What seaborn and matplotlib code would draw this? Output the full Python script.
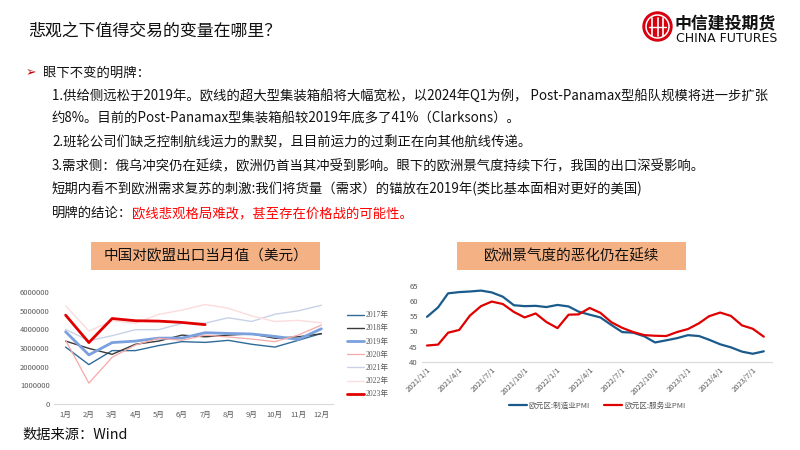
import matplotlib
matplotlib.use("Agg")
import matplotlib.pyplot as plt
import seaborn as sns
import pandas as pd
import numpy as np
from matplotlib.patches import Circle, Rectangle

# ---------------- data ----------------
months = list(range(1, 13))
month_labels = [f"{m}月" for m in months]

exp_2017 = [3050000, 2110000, 2860000, 2860000, 3130000, 3340000, 3300000, 3410000, 3200000, 3050000, 3410000, 3780000]
exp_2018 = [3370000, 2980000, 2660000, 3200000, 3370000, 3690000, 3600000, 3690000, 3760000, 3520000, 3600000, 3760000]
exp_2019 = [3870000, 2630000, 3290000, 3370000, 3530000, 3530000, 3820000, 3780000, 3750000, 3620000, 3460000, 4030000]
exp_2020 = [3410000, 1120000, 2500000, 3160000, 3520000, 3410000, 3690000, 3590000, 3480000, 3340000, 3690000, 4230000]
exp_2021 = [4000000, 3390000, 3660000, 3980000, 3980000, 4320000, 4330000, 4620000, 4420000, 4810000, 4990000, 5290000]
exp_2022 = [5260000, 3910000, 4460000, 4320000, 4800000, 5030000, 5330000, 5130000, 4720000, 4420000, 4480000, 4350000]
exp_2023 = [4760000, 3290000, 4580000, 4460000, 4440000, 4370000, 4250000]

years = ["2017年", "2018年", "2019年", "2020年", "2021年", "2022年", "2023年"]
year_values = [exp_2017, exp_2018, exp_2019, exp_2020, exp_2021, exp_2022, exp_2023]
year_colors = ["#2F6B9A", "#3A3A3A", "#7BA0DE", "#F7A8A8", "#C8D2E6", "#FCDCDC", "#E00000"]
year_widths = [1.0, 1.0, 2.0, 0.9, 1.0, 1.0, 2.0]

pmi_dates = pd.date_range("2021-01-01", periods=32, freq="MS")
pmi_manu = [54.8, 57.9, 62.5, 62.9, 63.1, 63.4, 62.8, 61.4, 58.6, 58.3, 58.4, 58.0,
            58.7, 58.2, 56.5, 55.5, 54.6, 52.1, 49.8, 49.6, 48.4, 46.4, 47.1, 47.8,
            48.8, 48.5, 47.3, 45.8, 44.8, 43.4, 42.7, 43.5]
pmi_serv = [45.4, 45.7, 49.6, 50.5, 55.2, 58.3, 59.8, 59.0, 56.4, 54.6, 55.9, 53.1,
            51.1, 55.5, 55.6, 57.7, 56.1, 53.0, 51.2, 49.8, 48.8, 48.6, 48.5, 49.8,
            50.8, 52.7, 55.0, 56.2, 55.1, 52.0, 50.9, 48.3]
pmi_names = ["欧元区:制造业PMI", "欧元区:服务业PMI"]

title = "悲观之下值得交易的变量在哪里？"
body_lines = [
    "1.供给侧远松于2019年。欧线的超大型集装箱船将大幅宽松，以2024年Q1为例， Post-Panamax型船队规模将进一步扩张",
    "约8%。目前的Post-Panamax型集装箱船较2019年底多了41%（Clarksons）。",
    "2.班轮公司们缺乏控制航线运力的默契，且目前运力的过剩正在向其他航线传递。",
    "3.需求侧：俄乌冲突仍在延续，欧洲仍首当其冲受到影响。眼下的欧洲景气度持续下行，我国的出口深受影响。",
    "短期内看不到欧洲需求复苏的刺激:我们将货量（需求）的锚放在2019年(类比基本面相对更好的美国)",
]
conclusion_head = "明牌的结论："
conclusion_red = "欧线悲观格局难改，甚至存在价格战的可能性。"
left_title = "中国对欧盟出口当月值（美元）"
right_title = "欧洲景气度的恶化仍在延续"
source = "数据来源：Wind"

# ---------------- style ----------------
sns.set_theme(style="white")
CJK = ["Noto Sans CJK SC", "DejaVu Sans"]
plt.rcParams["font.family"] = CJK
plt.rcParams["axes.unicode_minus"] = False

W, H = 800, 450
fig = plt.figure(figsize=(8, 4.5), dpi=100)

def fx(px):
    return px / W

def fy(py):
    return 1 - py / H

# header
fig.text(fx(28), fy(31), title, fontsize=12.2, va="center", ha="left", color="#111111")

# logo
lax = fig.add_axes([fx(641), fy(43), fx(33), 33 / H])
lax.set_xlim(-16.5, 16.5)
lax.set_ylim(-16.5, 16.5)
lax.set_aspect("equal")
lax.axis("off")
lax.add_patch(Circle((0, 0), 14.5, color="#D7000F"))
lax.add_patch(Circle((0, 0), 11.5, fill=False, ec="white", lw=1.1))
for xx in (-5.5, 0, 5.5):
    lax.plot([xx, xx], [-9, 9], color="white", lw=1.2)
lax.plot([-8.5, 8.5], [0, 0], color="white", lw=1.0)
fig.text(fx(675), fy(24), "中信建投期货", fontsize=12.2, fontweight="bold", va="center", ha="left", color="#111111")
fig.text(fx(676), fy(38.5), "CHINA FUTURES", fontsize=9.0, va="center", ha="left", color="#111111",
         family=["DejaVu Sans"])

# bullet text
BODY = 9.6
fig.text(fx(26), fy(73), "➢", fontsize=9, color="#C00000", va="center", ha="left", family=["DejaVu Sans"])
fig.text(fx(43), fy(73), "眼下不变的明牌：", fontsize=BODY, va="center", ha="left", color="#111111")
ys = [96, 119, 142, 166, 189]
for t, yy in zip(body_lines, ys):
    fig.text(fx(52), fy(yy), t, fontsize=BODY, va="center", ha="left", color="#111111")
head = fig.text(fx(52), fy(213), conclusion_head, fontsize=BODY, va="center", ha="left", color="#111111")
fig.canvas.draw()
bb = head.get_window_extent(renderer=fig.canvas.get_renderer())
fig.text(bb.x1 / W, fy(213), conclusion_red, fontsize=BODY, va="center", ha="left", color="#FF0000")

# title boxes
for (x0, x1, txt) in [(91, 320, left_title), (457, 686, right_title)]:
    fig.patches.append(Rectangle((fx(x0), fy(270)), fx(x1 - x0), 28 / H, transform=fig.transFigure,
                                 facecolor="#F4B183", edgecolor="none", zorder=0))
    fig.text(fx((x0 + x1) / 2), fy(256), txt, fontsize=10.5, va="center", ha="center", color="#111111")

# ---------------- left chart ----------------
ax1 = fig.add_axes([fx(54), fy(404), fx(279), 112 / H])
for name, vals, col, lw in zip(years, year_values, year_colors, year_widths):
    df = pd.DataFrame({"month": months[:len(vals)], "value": vals})
    sns.lineplot(data=df, x="month", y="value", ax=ax1, color=col, linewidth=lw, label=name)
ax1.set_xlim(0.5, 12.5)
ax1.set_ylim(0, 6000000)
ax1.set_yticks(range(0, 6000001, 1000000))
ax1.set_yticklabels([str(v) for v in range(0, 6000001, 1000000)])
ax1.set_xticks(months)
ax1.set_xticklabels(month_labels)
ax1.set_xlabel("")
ax1.set_ylabel("")
for s in ["top", "right", "left"]:
    ax1.spines[s].set_visible(False)
ax1.spines["bottom"].set_color("#D9D9D9")
ax1.spines["bottom"].set_linewidth(0.8)
ax1.tick_params(axis="y", length=0, labelsize=5.5, labelcolor="#595959", pad=3)
ax1.tick_params(axis="x", length=0, labelsize=5.5, labelcolor="#595959", pad=5)
ax1.grid(False)
leg = ax1.legend(loc="upper left", bbox_to_anchor=(1.04, 0.855), frameon=False, fontsize=5.5,
                 handlelength=2.2, handletextpad=0.15, labelspacing=0.68, borderaxespad=0)
for t in leg.get_texts():
    t.set_color("#595959")
    t.set_family(["Liberation Serif", "Noto Sans CJK SC"])

# ---------------- right chart ----------------
ax2 = fig.add_axes([fx(422), fy(362), fx(350), 76.3 / H])
df_m = pd.DataFrame({"date": pmi_dates, "value": pmi_manu})
df_s = pd.DataFrame({"date": pmi_dates, "value": pmi_serv})
sns.lineplot(data=df_m, x="date", y="value", ax=ax2, color="#1A5B8C", linewidth=1.6, label=pmi_names[0])
sns.lineplot(data=df_s, x="date", y="value", ax=ax2, color="#E00000", linewidth=1.6, label=pmi_names[1])
ax2.set_ylim(40, 65)
ax2.set_yticks([40, 45, 50, 55, 60, 65])
ax2.set_xlim(pd.Timestamp("2020-12-18"), pd.Timestamp("2023-08-24"))
tick_dates = pmi_dates[::3]
ax2.set_xticks(tick_dates)
ax2.set_xticklabels([f"{d.year}/{d.month}/{d.day}" for d in tick_dates], rotation=45,
                    ha="right", va="top", rotation_mode="anchor")
ax2.set_xlabel("")
ax2.set_ylabel("")
for s in ["top", "right", "left"]:
    ax2.spines[s].set_visible(False)
ax2.spines["bottom"].set_color("#D9D9D9")
ax2.spines["bottom"].set_linewidth(0.8)
ax2.tick_params(axis="both", length=0, labelsize=5.5, labelcolor="#595959", pad=3)
ax2.grid(False)
leg2 = ax2.legend(loc="center", bbox_to_anchor=(0.5, (362 - 406) / 76.3), ncol=2, frameon=False,
                  fontsize=5.5, handlelength=2.4, handletextpad=0.25, columnspacing=1.8)
for t in leg2.get_texts():
    t.set_color("#595959")

# source
fig.text(fx(22), fy(435), source, fontsize=10.3, va="center", ha="left", color="#111111")

fig.savefig("out.png", dpi=100)
